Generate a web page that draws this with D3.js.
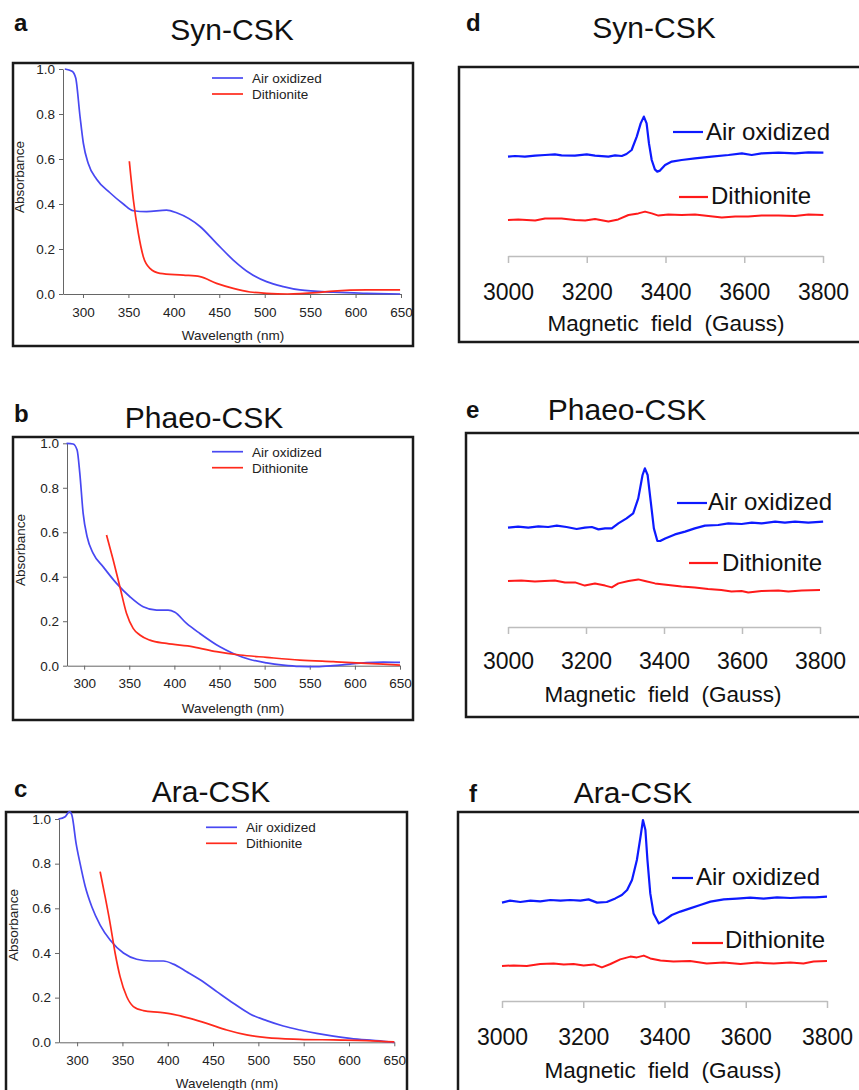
<!DOCTYPE html>
<html>
<head>
<meta charset="utf-8">
<script src="https://cdn.jsdelivr.net/npm/d3@7"></script>
<style>
  body { margin: 0; background: #fff; }
  svg text { font-family: "Liberation Sans", Arial, sans-serif; }
</style>
</head>
<body>
<svg id="fig" width="859" height="1090"></svg>
<script>
// Tick labels / legend names
const wavelengthTicks = [300, 350, 400, 450, 500, 550, 600, 650];
const absorbanceTicks = [0, 0.2, 0.4, 0.6, 0.8, 1.0];
const fieldTicks = [3000, 3200, 3400, 3600, 3800];
const seriesNames = ["Air oxidized", "Dithionite"];

// UV-vis spectra: [wavelength nm, absorbance]
const synUvAir = [[280,1.0],[288,0.99],[292,0.96],[296.7,0.79],[300.4,0.67],[305.8,0.58],[315,0.51],[329.7,0.45],
  [344.4,0.40],[355.4,0.37],[370,0.366],[392,0.373],[403,0.361],[428.8,0.30],[447,0.225],[465.4,0.151],
  [483.8,0.092],[502,0.055],[520.4,0.033],[538.8,0.018],[575.5,0.008],[612,0.003],[649,0.0]];
const synUvDith = [[351,0.59],[355.4,0.42],[360.9,0.27],[366.4,0.166],[373.7,0.114],[384.7,0.092],[410.4,0.084],
  [428.8,0.077],[447,0.047],[465.4,0.025],[483.8,0.009],[502,0.003],[525,0.0],[557,0.006],[575.5,0.013],
  [612,0.018],[649,0.018]];
const phaeoUvAir = [[280.5,1.0],[287.8,0.997],[292.2,0.97],[295.2,0.865],[298.9,0.685],[303.3,0.58],[310,0.505],
  [321,0.445],[335.9,0.37],[350.7,0.31],[365.4,0.265],[380.3,0.25],[393.1,0.25],[400.6,0.24],[413.5,0.19],
  [428.3,0.145],[450.4,0.085],[465.2,0.055],[483.7,0.028],[502.2,0.013],[520.6,0.003],[539,-0.003],
  [557.6,-0.0045],[576,0.0],[594.6,0.0075],[613,0.0135],[631.5,0.016],[650,0.015]];
const phaeoUvDith = [[324.8,0.588],[332.2,0.475],[339.6,0.355],[347,0.235],[354.3,0.168],[361.7,0.138],[372.8,0.115],
  [391.3,0.10],[420.8,0.085],[446.7,0.063],[472.6,0.048],[502.2,0.0375],[539,0.0255],[576,0.018],[613,0.0105],[650,0.003]];
const araUvAir = [[279.4,1.0],[286.8,1.01],[291.6,1.033],[294.2,1.018],[298.9,0.89],[303.3,0.80],[308.8,0.70],
  [316.2,0.607],[325.4,0.525],[336.4,0.458],[351.1,0.40],[365.8,0.372],[380.5,0.364],[395.2,0.364],[406.2,0.35],
  [420.9,0.316],[435.7,0.28],[454.1,0.227],[472.4,0.175],[490.8,0.127],[509.2,0.097],[527.5,0.073],[545.9,0.055],
  [564.3,0.04],[582.7,0.028],[601.1,0.018],[619.4,0.0105],[637.8,0.0045],[650,0.0]];
const araUvDith = [[325.4,0.764],[330.9,0.652],[336.4,0.533],[341.9,0.40],[347.4,0.294],[354.8,0.204],[362.1,0.16],
  [373.1,0.142],[391.5,0.134],[406.2,0.125],[424.6,0.107],[443,0.085],[465.1,0.055],[487.1,0.033],[509.2,0.021],
  [545.9,0.0135],[582.7,0.0105],[619.4,0.0075],[650,0.0015]];

// EPR traces: [field G, signal (arb. units)]
const synEprAir = [[3000,49.7],[3018,50.0],[3043,49.7],[3069,50.2],[3094,50.5],[3119,50.8],[3136,50.3],[3170,50.2],
  [3200,50.8],[3221,50.2],[3255,49.7],[3272,50.3],[3289,50.0],[3301,51.0],[3314,53.0],[3327,59.7],[3337,66.3],
  [3345,69.7],[3352,66.3],[3358,56.3],[3365,48.0],[3373,43.3],[3379,42.2],[3386,42.7],[3399,45.5],[3416,47.2],
  [3441,48.0],[3475,48.8],[3517,49.7],[3560,50.5],[3594,51.3],[3619,50.5],[3644,51.3],[3687,51.7],[3729,51.3],
  [3763,51.8],[3801,51.7]];
const synEprDith = [[3000,18.0],[3026,18.3],[3069,17.7],[3094,18.7],[3136,18.8],[3170,18.0],[3196,17.7],[3221,18.5],
  [3255,17.2],[3280,18.3],[3306,20.5],[3331,21.3],[3348,22.2],[3365,21.3],[3382,20.2],[3407,20.8],[3441,20.5],
  [3475,20.8],[3509,20.0],[3543,19.3],[3577,19.8],[3610,19.7],[3644,20.2],[3687,20.3],[3729,20.0],[3763,20.7],[3801,20.5]];
const phaeoEprAir = [[3000,49.7],[3026,50.2],[3052,49.7],[3078,50.3],[3103,50.0],[3125,50.7],[3150,50.0],[3176,49.0],
  [3197,49.7],[3215,50.0],[3232,48.8],[3249,49.3],[3266,49.3],[3283,51.8],[3304,54.3],[3321,56.8],[3334,64.3],
  [3345,76.0],[3351,79.3],[3358,76.0],[3366,62.7],[3374,49.3],[3383,43.0],[3390,43.0],[3403,44.3],[3428,46.3],
  [3454,47.7],[3479,49.3],[3505,50.7],[3539,51.0],[3565,51.8],[3599,51.5],[3625,52.2],[3650,51.8],[3685,52.7],
  [3710,52.2],[3736,52.7],[3770,52.2],[3808,52.7]];
const phaeoEprDith = [[3000,23.0],[3034,23.3],[3069,22.7],[3094,23.0],[3120,23.3],[3146,22.2],[3172,22.3],[3197,20.7],
  [3223,21.8],[3249,20.7],[3266,19.8],[3283,21.8],[3309,23.0],[3334,23.8],[3351,23.0],[3377,21.8],[3411,21.0],
  [3445,20.2],[3479,19.7],[3513,19.0],[3547,18.5],[3573,17.7],[3599,18.0],[3616,17.3],[3650,18.0],[3693,18.3],
  [3719,17.7],[3753,18.2],[3800,18.5]];
const araEprAir = [[3000,49.2],[3020,50.2],[3045,49.5],[3070,50.2],[3094,49.8],[3119,50.5],[3144,50.2],[3168,50.5],
  [3193,50.2],[3213,50.8],[3234,49.2],[3258,49.5],[3279,51.3],[3295,53.0],[3308,55.5],[3320,60.5],[3332,70.5],
  [3341,82.2],[3347,90.5],[3353,85.5],[3358,70.5],[3365,53.8],[3373,43.8],[3386,38.8],[3398,40.2],[3418,43.0],
  [3439,44.7],[3463,46.3],[3488,48.0],[3513,49.7],[3546,50.8],[3578,51.2],[3611,51.7],[3644,51.2],[3677,51.8],
  [3710,51.5],[3742,51.8],[3771,51.8],[3800,52.2]];
const araEprDith = [[3000,17.5],[3029,17.8],[3061,17.5],[3094,18.5],[3127,18.8],[3152,18.2],[3176,18.5],[3201,17.8],
  [3226,18.3],[3246,16.8],[3267,18.5],[3291,20.8],[3316,22.2],[3332,21.8],[3349,22.7],[3365,21.3],[3390,20.2],
  [3422,19.7],[3463,20.0],[3504,18.8],[3546,19.2],[3587,18.5],[3628,19.2],[3669,18.7],[3710,19.2],[3742,18.8],
  [3767,19.7],[3800,20.0]];

const svg = d3.select("#fig");

// left column: UV-vis panels (layout only)
const uvPanels = [
  { letter: "a", title: "Syn-CSK", air: synUvAir, dith: synUvDith, box: [13, 63, 413, 346],
    x: [278, 63, 401], y: [294, 69], titleXY: [232, 40], letterXY: [14, 31], legend: [212, 78],
    xLabel: [233, 340], yLabel: [20, 177] },
  { letter: "b", title: "Phaeo-CSK", air: phaeoUvAir, dith: phaeoUvDith, box: [13, 437, 413, 720],
    x: [281, 67, 400], y: [665.7, 443.3], titleXY: [204, 428], letterXY: [14, 422], legend: [212, 451.7],
    xLabel: [233, 713], yLabel: [21, 550] },
  { letter: "c", title: "Ara-CSK", air: araUvAir, dith: araUvDith, box: [6, 812, 407, 1110],
    x: [280, 59, 394.3], y: [1042.3, 819], titleXY: [211, 802], letterXY: [14, 797], legend: [206, 827.3],
    xLabel: [227, 1088], yLabel: [14, 925] }
];

// right column: EPR panels
const eprPanels = [
  { letter: "d", title: "Syn-CSK", air: synEprAir, dith: synEprDith, box: [459, 67, 880, 342],
    x: [508, 823], axisY: 256, tickGap: 37, titleXY: [654, 38], letterXY: [466, 31], xTitle: [666, 331],
    legAir: [673, 703, 132, 706, 140], legDith: [679, 708, 197, 711, 204] },
  { letter: "e", title: "Phaeo-CSK", air: phaeoEprAir, dith: phaeoEprDith, box: [466, 433, 880, 717],
    x: [508, 820], axisY: 627, tickGap: 35, titleXY: [627, 420], letterXY: [466, 418], xTitle: [663, 702],
    legAir: [677, 707, 503, 708, 510], legDith: [689, 718, 563, 722, 571] },
  { letter: "f", title: "Ara-CSK", air: araEprAir, dith: araEprDith, box: [458, 812, 880, 1110],
    x: [502, 827], axisY: 1001, tickGap: 37, titleXY: [633, 803], letterXY: [469, 802], xTitle: [663, 1078],
    legAir: [672, 693, 878, 696, 885], legDith: [692, 723, 943, 725, 948] }
];

function heading(p) {
  svg.append("text").attr("x", p.titleXY[0]).attr("y", p.titleXY[1])
    .attr("text-anchor", "middle").attr("font-size", 30).attr("fill", "#111").text(p.title);
  svg.append("text").attr("x", p.letterXY[0]).attr("y", p.letterXY[1])
    .attr("font-size", 24).attr("font-weight", "bold").attr("fill", "#111").text(p.letter);
}

function frame(b) {
  svg.append("rect").attr("x", b[0]).attr("y", b[1])
    .attr("width", b[2] - b[0]).attr("height", b[3] - b[1])
    .attr("fill", "none").attr("stroke", "#1a1a1a").attr("stroke-width", 2.5);
}

function drawUv(p) {
  heading(p);
  frame(p.box);
  const g = svg.append("g");
  const x = d3.scaleLinear().domain([p.x[0], 650]).range([p.x[1], p.x[2]]);
  const y = d3.scaleLinear().domain([0, 1]).range(p.y);

  const gx = g.append("g").attr("transform", `translate(0,${p.y[0]})`)
    .call(d3.axisBottom(x).tickValues(wavelengthTicks).tickSize(4).tickPadding(9).tickSizeOuter(0));
  const gy = g.append("g").attr("transform", `translate(${p.x[1]},0)`)
    .call(d3.axisLeft(y).tickValues(absorbanceTicks).tickFormat(d3.format(".1f"))
      .tickSize(4).tickPadding(4).tickSizeOuter(0));
  [gx, gy].forEach(a => {
    a.select(".domain").attr("stroke", "#666");
    a.selectAll(".tick line").attr("stroke", "#666");
    a.selectAll("text").attr("font-size", 13.5).attr("fill", "#222")
      .attr("font-family", '"Liberation Sans", Arial, sans-serif');
  });

  const line = d3.line().x(d => x(d[0])).y(d => y(d[1])).curve(d3.curveMonotoneX);
  g.append("path").datum(p.air).attr("d", line)
    .attr("fill", "none").attr("stroke", "#4848f2").attr("stroke-width", 1.7);
  g.append("path").datum(p.dith).attr("d", line)
    .attr("fill", "none").attr("stroke", "#ff2a1c").attr("stroke-width", 1.7);

  // legend
  const colors = ["#4848f2", "#ff2a1c"];
  seriesNames.forEach((name, i) => {
    const ly = p.legend[1] + i * 16;
    g.append("line").attr("x1", p.legend[0]).attr("x2", p.legend[0] + 31)
      .attr("y1", ly).attr("y2", ly).attr("stroke", colors[i]).attr("stroke-width", 1.7);
    g.append("text").attr("x", p.legend[0] + 40).attr("y", ly + 4.8)
      .attr("font-size", 13.5).attr("fill", "#222").text(name);
  });

  g.append("text").attr("x", p.xLabel[0]).attr("y", p.xLabel[1])
    .attr("text-anchor", "middle").attr("font-size", 13.5).attr("fill", "#222").text("Wavelength (nm)");
  g.append("text").attr("transform", `translate(${p.yLabel[0] + 4},${p.yLabel[1]}) rotate(-90)`)
    .attr("text-anchor", "middle").attr("font-size", 13.5).attr("fill", "#222").text("Absorbance");
}

function drawEpr(p) {
  heading(p);
  frame(p.box);
  const g = svg.append("g");
  const x = d3.scaleLinear().domain([3000, 3800]).range(p.x);
  const y = d3.scaleLinear().domain([0, 100]).range([p.axisY, p.axisY - 200]);

  const gx = g.append("g").attr("transform", `translate(0,${p.axisY})`)
    .call(d3.axisBottom(x).tickValues(fieldTicks).tickFormat(d3.format("d"))
      .tickSize(7).tickPadding(p.tickGap - 23 * 0.71).tickSizeOuter(0));
  gx.select(".domain").attr("stroke", "#bdbdbd").attr("stroke-width", 1.5);
  gx.selectAll(".tick line").attr("stroke", "#bdbdbd").attr("stroke-width", 1.5);
  gx.selectAll("text").attr("font-size", 23).attr("fill", "#111")
    .attr("font-family", '"Liberation Sans", Arial, sans-serif');

  const line = d3.line().x(d => x(d[0])).y(d => y(d[1]));
  g.append("path").datum(p.air).attr("d", line).attr("fill", "none")
    .attr("stroke", "#0d1aff").attr("stroke-width", 2.2).attr("stroke-linejoin", "round");
  g.append("path").datum(p.dith).attr("d", line).attr("fill", "none")
    .attr("stroke", "#ff1a1a").attr("stroke-width", 2).attr("stroke-linejoin", "round");

  const legs = [[p.legAir, "#0d1aff"], [p.legDith, "#ff1a1a"]];
  legs.forEach(([l, c], i) => {
    g.append("line").attr("x1", l[0]).attr("x2", l[1]).attr("y1", l[2]).attr("y2", l[2])
      .attr("stroke", c).attr("stroke-width", 2.2);
    g.append("text").attr("x", l[3]).attr("y", l[4]).attr("font-size", 24)
      .attr("fill", "#111").text(seriesNames[i]);
  });

  g.append("text").attr("x", p.xTitle[0]).attr("y", p.xTitle[1])
    .attr("text-anchor", "middle").attr("font-size", 22.5).attr("word-spacing", 6)
    .attr("fill", "#111").text("Magnetic field (Gauss)");
}

uvPanels.forEach(drawUv);
eprPanels.forEach(drawEpr);
</script>
</body>
</html>
